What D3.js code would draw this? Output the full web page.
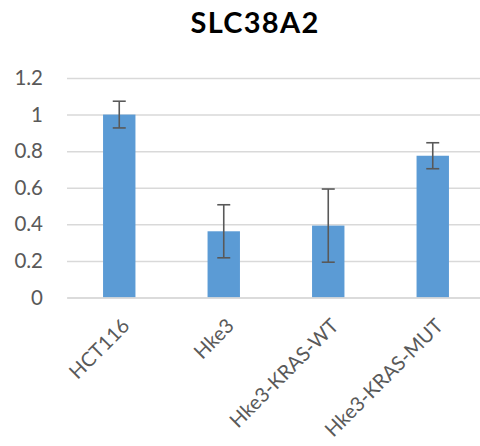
<!DOCTYPE html>
<html><head><meta charset="utf-8">
<script src="https://cdn.jsdelivr.net/npm/d3@7"></script>
<style>body{margin:0;background:#fff;} svg{display:block;}</style>
</head><body>
<script>
const categories = ["HCT116", "Hke3", "Hke3-KRAS-WT", "Hke3-KRAS-MUT"];
const values = [1.0, 0.362, 0.393, 0.775];
const errors = [0.073, 0.145, 0.2, 0.071];
const yTicks = [0, 0.2, 0.4, 0.6, 0.8, 1, 1.2];
const yTickLabels = ["0", "0.2", "0.4", "0.6", "0.8", "1", "1.2"];
const title = "SLC38A2";

const W = 480, H = 446;
const svg = d3.select("body").append("svg").attr("width", W).attr("height", H);
const font = "Lato, 'Open Sans', sans-serif";

const x = d3.scaleBand().domain(categories).range([67, 485]).paddingInner(0.69).paddingOuter(0.345);
const y = d3.scaleLinear().domain([0, 1.2]).range([297.5, 78]);

svg.append("text").attr("x", 255).attr("y", 33).attr("text-anchor", "middle")
  .attr("font-family", font).attr("font-weight", "bold").attr("font-size", 29)
  .attr("letter-spacing", 1.3).attr("fill", "#000").text(title);

const gy = svg.append("g").attr("transform", "translate(67,0)")
  .call(d3.axisLeft(y).tickValues(yTicks).tickSize(-418).tickFormat((d, i) => yTickLabels[i]).tickPadding(24));
gy.select(".domain").remove();
gy.selectAll(".tick line").attr("stroke", "#d9d9d9").attr("stroke-width", 1.5);
gy.selectAll(".tick text").attr("font-family", font).attr("font-size", 20.5).attr("fill", "#595959");

svg.selectAll("rect.bar").data(categories).join("rect").attr("class", "bar")
  .attr("x", d => x(d)).attr("width", x.bandwidth())
  .attr("y", (d, i) => y(values[i])).attr("height", (d, i) => y(0) - y(values[i]))
  .attr("fill", "#5b9bd5");

const eb = svg.append("g").attr("stroke", "#595959").attr("stroke-width", 1.6);
categories.forEach((c, i) => {
  const cx = x(c) + x.bandwidth() / 2;
  const t = y(values[i] + errors[i]), b = y(values[i] - errors[i]);
  eb.append("line").attr("x1", cx).attr("x2", cx).attr("y1", t).attr("y2", b);
  eb.append("line").attr("x1", cx - 6.5).attr("x2", cx + 6.5).attr("y1", t).attr("y2", t);
  eb.append("line").attr("x1", cx - 6.5).attr("x2", cx + 6.5).attr("y1", b).attr("y2", b);
});

const gx = svg.append("g").attr("transform", `translate(0,${y(0)})`)
  .call(d3.axisBottom(x).tickSize(0).tickPadding(0));
gx.select(".domain").attr("stroke", "#d9d9d9").attr("stroke-width", 1.5);
gx.selectAll(".tick text").attr("font-family", font).attr("font-size", 20).attr("fill", "#595959")
  .attr("text-anchor", "end").attr("dy", null)
  .attr("transform", "translate(8,26) rotate(-45)").attr("y", 0).attr("x", 0).attr("dominant-baseline", "middle");
</script>
</body></html>
